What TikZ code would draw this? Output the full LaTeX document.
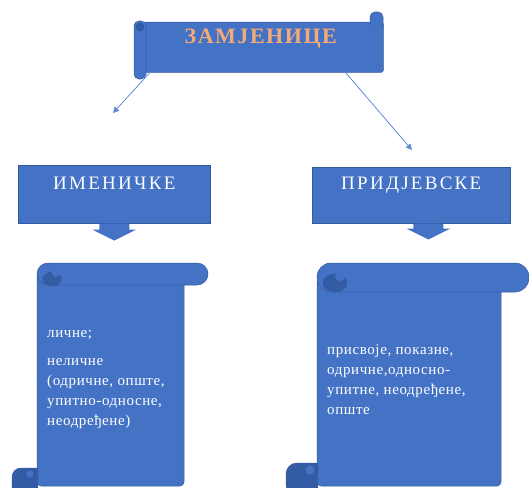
\documentclass[tikz,border=0pt]{standalone}
\usepackage{fontspec}
\setmainfont{Liberation Serif}
\usepackage{xcolor}
\usepackage{tikz}
\usetikzlibrary{arrows.meta, positioning}
\definecolor{figblue}{RGB}{68,114,196}
\definecolor{figedge}{RGB}{52,90,160}
\definecolor{figcurl}{RGB}{52,92,165}
\definecolor{figorange}{RGB}{244,170,120}
\definecolor{figline}{RGB}{96,140,214}
\tikzset{
    scrollpart/.style={fill=figblue, draw=figedge, line width=0.5pt},
    curlpart/.style={fill=figcurl, draw=figedge, line width=0.5pt},
    labelbox/.style={scrollpart, inner sep=0pt, anchor=north west},
    headtext/.style={font=\fontsize{22}{26}\bfseries\selectfont\addfontfeature{LetterSpace=7}, text=figorange},
    boxtext/.style={font=\fontsize{19}{22}\selectfont\addfontfeature{LetterSpace=12}, text=white},
    listtext/.style={font=\fontsize{15}{20}\selectfont\addfontfeature{LetterSpace=4}, text=white,
        align=left, anchor=north west, inner sep=0pt},
}
\tikzstyle{arrow} = [-{Triangle[length=6pt, width=6pt]}, line width=0.8pt, draw=figline]

\begin{document}
\begin{tikzpicture}[x=1pt, y=-1pt]
    \useasboundingbox (0,0) rectangle (529,487);

    % title banner
    \node[labelbox, rounded corners=2pt, minimum width=243pt, minimum height=50pt] (banner) at (140,22) {};
    \draw[scrollpart, rounded corners=5pt] (370,12) rectangle (383,30);
    \fill[figblue] (371,22) rectangle (382,40);
    \draw[scrollpart, rounded corners=5pt] (134,21) rectangle (146,79);
    \draw[curlpart] (140,27) circle (4pt);
    \node[headtext] (zam) at ([xshift=-1pt, yshift=9pt]banner.center) {ЗАМЈЕНИЦЕ};

    % connectors
    \coordinate (imenend) at (113,113);
    \coordinate (pridend) at (412,150);
    \draw[arrow] ([xshift=10pt]banner.south west) -- (imenend);
    \draw[arrow] ([xshift=-38pt]banner.south east) -- (pridend);

    % noun and adjective boxes
    \node[labelbox, minimum width=192pt, minimum height=58pt] (imen) at (18,165) {};
    \node[labelbox, minimum width=198pt, minimum height=56pt] (prid) at (312,167) {};
    \node[boxtext] (imentext) at ([yshift=11pt]imen.center) {ИМЕНИЧКЕ};
    \node[boxtext] (pridtext) at ([yshift=10pt]prid.center) {ПРИДЈЕВСКЕ};
    \fill[scrollpart, draw=none] ([xshift=-15pt]imen.south) -- ++(0,6) -- ++(-7,0)
        -- ++(22,11) -- ++(22,-11) -- ++(-7,0) -- ++(0,-6) -- cycle;
    \fill[scrollpart, draw=none] ([xshift=-15pt]prid.south) ++(17,0) -- ++(0,5) -- ++(-7,0)
        -- ++(22,11) -- ++(22,-11) -- ++(-7,0) -- ++(0,-5) -- cycle;

    % left scroll
    \draw[scrollpart, rounded corners=4pt] (37,272) -- (184,272) -- (184,486) -- (37,486) -- cycle;
    \draw[scrollpart, rounded corners=11pt] (37,263) rectangle (208,285);
    \draw[curlpart] (52,279) ellipse (9pt and 7pt);
    \fill[figblue] (56,273) circle (4pt);
    \draw[curlpart, rounded corners=9pt] (38,468) -- (12,468) -- (12,496) -- (38,496);
    \draw[scrollpart] (30,474) circle (4pt);
    \node[listtext] (imenlist) at (47,330) {личне;\\[8pt]
        неличне\\(одричне, опште,\\упитно-односне,\\неодређене)};

    % right scroll
    \draw[scrollpart, rounded corners=4pt] (317,278) -- (501,278) -- (501,486) -- (317,486) -- cycle;
    \draw[scrollpart, rounded corners=14pt] (317,263) rectangle (529,292);
    \draw[curlpart] (335,283) ellipse (12pt and 9pt);
    \fill[figblue] (340,276) circle (5pt);
    \draw[curlpart, rounded corners=11pt] (318,463) -- (286,463) -- (286,496) -- (318,496);
    \draw[scrollpart] (310,470) circle (5pt);
    \node[listtext] (pridlist) at (327,344) {присвоје, показне,\\одричне,односно-\\упитне, неодређене,\\опште};
\end{tikzpicture}
\end{document}
